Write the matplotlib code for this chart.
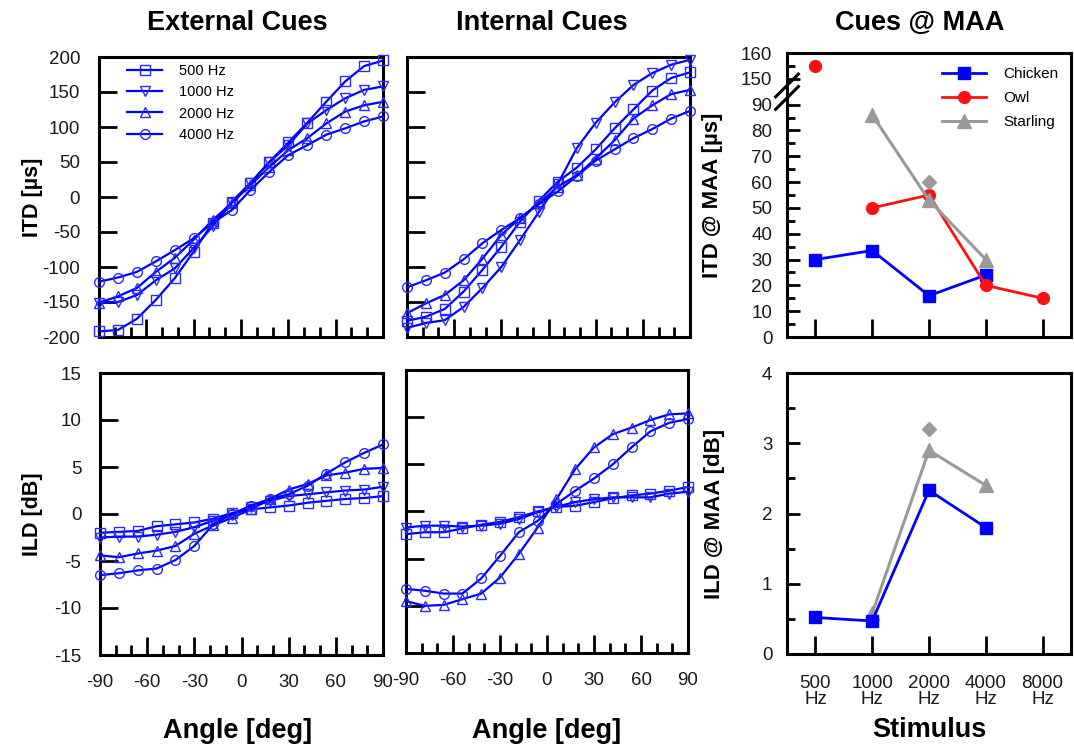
import numpy as np
import matplotlib
matplotlib.use('Agg')
import matplotlib.pyplot as plt
from matplotlib.ticker import FixedLocator, MultipleLocator

plt.rcParams['font.family'] = ['Liberation Sans', 'DejaVu Sans']
plt.rcParams['axes.unicode_minus'] = False

# ---- data: ITD / ILD vs angle (markers every 12 deg) ----
angles = np.arange(-90, 91, 12)
freq_labels = ['500 Hz', '1000 Hz', '2000 Hz', '4000 Hz']
freq_markers = ['s', 'v', '^', 'o']

ext_itd_500 = [-192, -190, -174, -147, -116, -78, -37, -7, 20, 50, 78, 106, 136, 165, 187, 195]
ext_itd_1000 = [-151, -150, -140, -119, -102, -73, -42, -9, 20, 50, 74, 105, 124, 141, 153, 158]
ext_itd_2000 = [-151, -142, -130, -107, -87, -61, -33, -9, 17, 43, 67, 84, 105, 122, 131, 136]
ext_itd_4000 = [-121, -115, -107, -92, -76, -59, -37, -19, 10, 36, 60, 74, 89, 98, 108, 115]

int_itd_500 = [-177, -171, -160, -135, -104, -71, -35, -5, 22, 42, 68, 98, 125, 152, 170, 178]
int_itd_1000 = [-187, -180, -176, -157, -130, -100, -61, -21, 19, 70, 106, 135, 160, 177, 189, 196]
int_itd_2000 = [-166, -152, -140, -119, -88, -54, -30, -9, 15, 31, 55, 81, 112, 131, 147, 153]
int_itd_4000 = [-129, -119, -108, -89, -66, -47, -30, -10, 8, 30, 52, 68, 84, 97, 112, 123]

ext_ild_500 = [-2.0, -1.9, -1.8, -1.3, -1.1, -0.9, -0.5, 0.1, 0.5, 0.7, 0.9, 1.2, 1.4, 1.6, 1.7, 1.9]
ext_ild_1000 = [-2.5, -2.4, -2.4, -2.2, -1.9, -1.4, -0.7, -0.1, 0.7, 1.4, 1.9, 2.1, 2.3, 2.5, 2.6, 2.9]
ext_ild_2000 = [-4.4, -4.6, -4.2, -3.9, -3.4, -2.1, -1.2, -0.4, 0.5, 1.6, 2.6, 3.2, 4.1, 4.4, 4.8, 4.9]
ext_ild_4000 = [-6.5, -6.3, -6.0, -5.8, -4.9, -3.4, -1.1, 0.0, 0.9, 1.6, 2.1, 3.0, 4.3, 5.5, 6.5, 7.4]

int_ild_500 = [-2.4, -2.2, -2.2, -1.8, -1.4, -1.1, -0.6, 0.0, 0.5, 0.6, 1.0, 1.4, 1.7, 1.9, 2.2, 2.6]
int_ild_1000 = [-1.7, -1.5, -1.5, -1.6, -1.5, -1.3, -0.8, -0.1, 0.5, 1.0, 1.3, 1.5, 1.5, 1.5, 1.9, 2.1]
int_ild_2000 = [-9.5, -10.0, -9.9, -9.3, -8.7, -7.0, -4.5, -1.7, 1.3, 4.5, 6.8, 8.2, 8.9, 9.7, 10.3, 10.4]
int_ild_4000 = [-8.2, -8.4, -8.7, -8.7, -7.1, -4.7, -2.2, -1.0, 0.8, 2.2, 3.5, 5.0, 6.8, 8.5, 9.4, 9.8]

# ---- data: cues at MAA ----
stimuli = ['500\nHz', '1000\nHz', '2000\nHz', '4000\nHz', '8000\nHz']
chicken_itd = [30, 33.5, 16, 24, np.nan]
owl_itd = [155, 50, 55, 20, 15]
starling_itd = [np.nan, 86, 53, 30, np.nan]
starling_itd_alt = [np.nan, np.nan, 60, np.nan, np.nan]
chicken_ild = [0.52, 0.47, 2.33, 1.80, np.nan]
starling_ild = [np.nan, 0.58, 2.90, 2.40, np.nan]
starling_ild_alt = [np.nan, np.nan, 3.2, np.nan, np.nan]

BLUE = '#0000ff'
RED = '#ff1010'
GRAY = '#9a9a9a'

W, H = 1074, 747
fig = plt.figure(figsize=(W / 100, H / 100), dpi=100)


def box(l, t, r, b):
    return [l / W, 1 - b / H, (r - l) / W, (b - t) / H]


def style(ax, major_len=12, minor_len=6, xpad=9, ypad=9):
    for s in ax.spines.values():
        s.set_linewidth(2.2)
        s.set_color('black')
    ax.tick_params(which='both', direction='in', top=False, right=False,
                   width=2, labelsize=13.5, labelcolor='#1a1a1a')
    ax.tick_params(axis='x', pad=xpad)
    ax.tick_params(axis='y', pad=ypad)
    ax.tick_params(which='major', length=major_len)
    ax.tick_params(which='minor', length=minor_len)


def angle_panel(ax, series, ylim, ystep, show_x):
    for vals, mk in zip(series, freq_markers):
        ax.plot(angles, vals, color=BLUE, lw=1.6, marker=mk, ms=7,
                mfc='none', mec='#2a2aff', mew=1.0, clip_on=False, zorder=3)
    ax.set_xlim(-90, 90)
    ax.set_ylim(*ylim)
    ax.set_xticks(np.arange(-90, 91, 30))
    ax.xaxis.set_minor_locator(MultipleLocator(10))
    ax.set_yticks(np.arange(ylim[0], ylim[1] + 0.1, ystep))
    style(ax, major_len=13, minor_len=7, xpad=14, ypad=13.5)
    if not show_x:
        ax.tick_params(axis='x', labelbottom=False)


ax1 = fig.add_axes(box(99, 57, 383, 337))
ax2 = fig.add_axes(box(407, 57, 690, 337))
ax3 = fig.add_axes(box(100, 373, 383, 655))
ax4 = fig.add_axes(box(406, 370, 688, 653))
ax5 = fig.add_axes(box(787, 53, 1071, 337))
ax6 = fig.add_axes(box(787, 373, 1071, 654))

angle_panel(ax1, [ext_itd_500, ext_itd_1000, ext_itd_2000, ext_itd_4000], (-200, 200), 50, False)
angle_panel(ax2, [int_itd_500, int_itd_1000, int_itd_2000, int_itd_4000], (-200, 200), 50, False)
angle_panel(ax3, [ext_ild_500, ext_ild_1000, ext_ild_2000, ext_ild_4000], (-15, 15), 5, True)
angle_panel(ax4, [int_ild_500, int_ild_1000, int_ild_2000, int_ild_4000], (-15, 15), 5, True)
ax2.tick_params(axis='y', labelleft=False)
ax4.tick_params(axis='y', labelleft=False)

leg = ax1.legend(freq_labels, loc='upper left', bbox_to_anchor=(0.1, 0.975),
                 frameon=False, fontsize=10.5, handlelength=2.4, handletextpad=1.15,
                 labelspacing=0.5, borderpad=0, borderaxespad=0, numpoints=1)

ax1.set_ylabel('ITD [µs]', fontsize=15.5, fontweight='bold')
ax3.set_ylabel('ILD [dB]', fontsize=15.5, fontweight='bold')
ax1.yaxis.set_label_coords(-0.197, 0.5)
ax3.yaxis.set_label_coords(-0.2, 0.5)
ax3.set_xlabel('Angle [deg]', fontsize=19.5, fontweight='bold')
ax4.set_xlabel('Angle [deg]', fontsize=19.5, fontweight='bold')
ax3.xaxis.set_label_coords(0.485, -0.222)
ax4.xaxis.set_label_coords(0.5, -0.229)


# ---- broken ITD axis: 0-90 linear, then 150-160 ----
def fwd(v):
    v = np.asarray(v, dtype=float)
    return np.where(v <= 90, v, np.where(v >= 150, v - 50, 90 + (v - 90) / 6))


def inv(d):
    d = np.asarray(d, dtype=float)
    return np.where(d <= 90, d, np.where(d >= 100, d + 50, 90 + (d - 90) * 6))


xcat = np.arange(len(stimuli))
ax5.set_yscale('function', functions=(fwd, inv))
ax5.plot(xcat, chicken_itd, color=BLUE, lw=2, marker='s', ms=9, label='Chicken', zorder=3)
ax5.plot(xcat[1:], owl_itd[1:], color=RED, lw=2, marker='o', ms=8.5, label='Owl', zorder=4)
ax5.plot(xcat[:1], owl_itd[:1], color=RED, ls='none', marker='o', ms=8.5, zorder=4)
ax5.plot(xcat, starling_itd, color=GRAY, lw=2.2, marker='^', ms=10, label='Starling', zorder=5)
ax5.plot(xcat, starling_itd_alt, color=GRAY, ls='none', marker='D', ms=7, zorder=5)
ax5.set_xlim(-0.5, 4.5)
ax5.set_ylim(0, 160)
ax5.yaxis.set_major_locator(FixedLocator([0, 10, 20, 30, 40, 50, 60, 70, 80, 90, 150, 160]))
ax5.yaxis.set_minor_locator(FixedLocator([5, 15, 25, 35, 45, 55, 65, 75, 85, 155]))
ax5.yaxis.set_major_formatter(plt.FuncFormatter(lambda v, p: f'{v:.0f}'))
ax5.yaxis.set_minor_formatter(plt.NullFormatter())
ax5.set_xticks(xcat)
style(ax5, major_len=9, minor_len=6, xpad=15, ypad=10.5)
ax5.tick_params(axis='x', which='major', length=13, labelbottom=False)
ax5.set_ylabel('ITD @ MAA [µs]', fontsize=16, fontweight='bold')
ax5.yaxis.set_label_coords(-0.225, 0.5)
leg5 = ax5.legend(loc='upper left', bbox_to_anchor=(0.535, 0.96), frameon=True,
                  facecolor='white', edgecolor='none', framealpha=1, fancybox=False,
                  fontsize=11, handlelength=2.9, handletextpad=1.1, labelspacing=0.65,
                  borderpad=0.2, borderaxespad=0, numpoints=1)

# break marks on the left spine
yb = 95 / 110
for dy in (-0.022, 0.022):
    ax5.plot([-0.04, 0.04], [yb + dy - 0.04, yb + dy + 0.04], transform=ax5.transAxes,
             color='black', lw=2.2, clip_on=False, zorder=6)

ax6.plot(xcat, chicken_ild, color=BLUE, lw=2, marker='s', ms=9, zorder=4)
ax6.plot(xcat, starling_ild, color=GRAY, lw=2.2, marker='^', ms=10, zorder=3)
ax6.plot(xcat, starling_ild_alt, color=GRAY, ls='none', marker='D', ms=7, zorder=3)
ax6.set_xlim(-0.5, 4.5)
ax6.set_ylim(0, 4)
ax6.set_yticks([0, 1, 2, 3, 4])
ax6.yaxis.set_minor_locator(MultipleLocator(0.5))
ax6.set_xticks(xcat)
ax6.set_xticklabels(stimuli, linespacing=0.9)
style(ax6, major_len=9, minor_len=6, xpad=15, ypad=10.5)
ax6.tick_params(axis='x', which='major', length=13)
ax6.set_ylabel('ILD @ MAA [dB]', fontsize=16, fontweight='bold')
ax6.yaxis.set_label_coords(-0.218, 0.5)
ax6.set_xlabel('Stimulus', fontsize=19.5, fontweight='bold')
ax6.xaxis.set_label_coords(0.5, -0.225)

for x, t in [(237, 'External Cues'), (542, 'Internal Cues'), (920, 'Cues @ MAA')]:
    fig.text(x / W, 1 - 23 / H, t, ha='center', va='center', fontsize=19.5, fontweight='bold')

fig.savefig('out.png', dpi=100)
